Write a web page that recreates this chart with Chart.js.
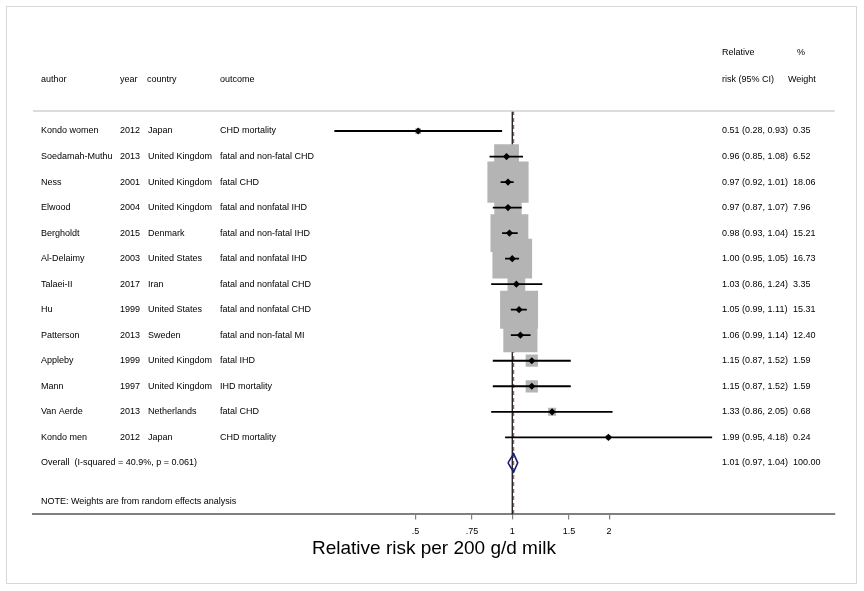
<!DOCTYPE html>
<html>
<head>
<meta charset="utf-8">
<script src="https://cdn.jsdelivr.net/npm/chart.js@4"></script>
<style>
  html,body{margin:0;padding:0;background:#fff;overflow:hidden;}
  canvas{display:block;}
</style>
</head>
<body>
<canvas id="c" width="864" height="591"></canvas>
<script>
// study data
const authors = ["Kondo women","Soedamah-Muthu","Ness","Elwood","Bergholdt","Al-Delaimy","Talaei-II","Hu","Patterson","Appleby","Mann","Van Aerde","Kondo men"];
const years = ["2012","2013","2001","2004","2015","2003","2017","1999","2013","1999","1997","2013","2012"];
const countries = ["Japan","United Kingdom","United Kingdom","United Kingdom","Denmark","United States","Iran","United States","Sweden","United Kingdom","United Kingdom","Netherlands","Japan"];
const outcomes = ["CHD mortality","fatal and non-fatal CHD","fatal CHD","fatal and nonfatal IHD","fatal and non-fatal IHD","fatal and nonfatal IHD","fatal and nonfatal CHD","fatal and nonfatal CHD","fatal and non-fatal MI","fatal IHD","IHD mortality","fatal CHD","CHD mortality"];
const rr = [0.51,0.96,0.97,0.97,0.98,1.00,1.03,1.05,1.06,1.15,1.15,1.33,1.99];
const lo = [0.28,0.85,0.92,0.87,0.93,0.95,0.86,0.99,0.99,0.87,0.87,0.86,0.95];
const hi = [0.93,1.08,1.01,1.07,1.04,1.05,1.24,1.11,1.14,1.52,1.52,2.05,4.18];
const weights = [0.35,6.52,18.06,7.96,15.21,16.73,3.35,15.31,12.40,1.59,1.59,0.68,0.24];

const overallRR = 1.01, overallLo = 0.97, overallHi = 1.04, overallW = 100.00;
const overallLabel = "Overall  (I-squared = 40.9%, p = 0.061)";
const noteText = "NOTE: Weights are from random effects analysis";

const xTicks = [0.5,0.75,1,1.5,2];
const xTickLabels = [".5",".75","1","1.5","2"];
const xTitle = "Relative risk per 200 g/d milk";

// scale ranges
const xMin = 0.0324, xMax = 10.06;
const yMin = 0.216, yMax = 16.02;
const overallRow = authors.length + 1;

const f2 = v => v.toFixed(2);
const rowOf = i => i + 1;

// grey weight boxes
const boxData = rr.map((v,i)=>({x:v,y:rowOf(i)}));
// confidence interval segments, broken by nulls
const ciData = [];
rr.forEach((v,i)=>{ ciData.push({x:lo[i],y:rowOf(i)},{x:hi[i],y:rowOf(i)},{x:null,y:null}); });
// overall diamond
const dh = 0.36;
const diamond = [
  {x:overallLo,y:overallRow},{x:overallRR,y:overallRow-dh},
  {x:overallHi,y:overallRow},{x:overallRR,y:overallRow+dh},
  {x:overallLo,y:overallRow}
];

const SIDE_PER_SQRT = 9.7;

const textPlugin = {
  id:"textPlugin",
  beforeDraw(chart){
    const c = chart.ctx;
    c.save();
    c.fillStyle = "#fff";
    c.fillRect(0,0,chart.width,chart.height);
    c.strokeStyle = "#d8d8d8";
    c.lineWidth = 1;
    c.strokeRect(6.5,6.5,850,577);
    c.restore();
  },
  afterDraw(chart){
    const c = chart.ctx, y = chart.scales.y, a = chart.chartArea;
    c.save();
    // header separator
    c.strokeStyle = "#d0d0d0";
    c.lineWidth = 1.5;
    c.beginPath(); c.moveTo(a.left, a.top); c.lineTo(a.right, a.top); c.stroke();

    c.fillStyle = "#000";
    c.font = '9px "Liberation Sans", Arial, sans-serif';
    c.textBaseline = "middle";
    c.textAlign = "left";
    c.fillText("author",41,80);
    c.fillText("year",120,80);
    c.fillText("country",147,80);
    c.fillText("outcome",220,80);
    c.fillText("Relative",722,53);
    c.fillText("%",797,53);
    c.fillText("risk (95% CI)",722,80);
    c.fillText("Weight",788,80);

    authors.forEach((name,i)=>{
      const py = y.getPixelForValue(rowOf(i));
      c.fillText(name,41,py);
      c.fillText(years[i],120,py);
      c.fillText(countries[i],148,py);
      c.fillText(outcomes[i],220,py);
      c.fillText(`${f2(rr[i])} (${f2(lo[i])}, ${f2(hi[i])})`,722,py);
      c.fillText(f2(weights[i]),793,py);
    });
    const oy = y.getPixelForValue(overallRow);
    c.fillText(overallLabel,41,oy);
    c.fillText(`${f2(overallRR)} (${f2(overallLo)}, ${f2(overallHi)})`,722,oy);
    c.fillText(f2(overallW),793,oy);
    c.fillText(noteText,41,502);
    c.restore();
  }
};

new Chart(document.getElementById("c"),{
  type:"scatter",
  data:{datasets:[
    {data:[{x:1,y:yMin},{x:1,y:yMax}],showLine:true,borderColor:"#000",borderWidth:1.2,pointRadius:0,order:6},
    {data:[{x:overallRR,y:yMin},{x:overallRR,y:yMax}],showLine:true,borderColor:"#c2476a",borderWidth:1.2,borderDash:[4,3],pointRadius:0,order:5},
    {data:boxData,pointStyle:"rect",backgroundColor:"#b4b4b4",borderWidth:0,
      pointRadius:ctx=>SIDE_PER_SQRT*Math.sqrt(weights[ctx.dataIndex])/Math.SQRT2,order:4},
    {data:ciData,showLine:true,borderColor:"#000",borderWidth:1.8,pointRadius:0,spanGaps:false,order:3},
    {data:boxData,pointStyle:"rectRot",backgroundColor:"#000",borderColor:"#000",borderWidth:0,pointRadius:3.6,order:2},
    {data:diamond,showLine:true,borderColor:"#1c1c78",borderWidth:1.6,pointRadius:0,order:1}
  ]},
  options:{
    responsive:false,
    animation:false,
    devicePixelRatio:1,
    layout:{padding:{left:33,right:28,top:111,bottom:31}},
    plugins:{legend:{display:false},tooltip:{enabled:false}},
    scales:{
      x:{
        type:"logarithmic",min:xMin,max:xMax,
        afterBuildTicks:ax=>{ax.ticks = xTicks.map(v=>({value:v}));},
        ticks:{autoSkip:false,maxRotation:0,padding:7,color:"#000",
          font:{family:'"Liberation Sans", Arial, sans-serif',size:9},
          callback:(v,i)=>xTickLabels[i]},
        grid:{display:true,drawOnChartArea:false,drawTicks:true,tickLength:5,color:"#808080",lineWidth:1.2},
        border:{display:true,color:"#808080",width:2},
        title:{display:true,text:xTitle,color:"#000",padding:{top:-7,bottom:0},
          font:{family:'"Liberation Sans", Arial, sans-serif',size:19}}
      },
      y:{type:"linear",display:false,reverse:true,min:yMin,max:yMax}
    }
  },
  plugins:[textPlugin]
});
</script>
</body>
</html>
